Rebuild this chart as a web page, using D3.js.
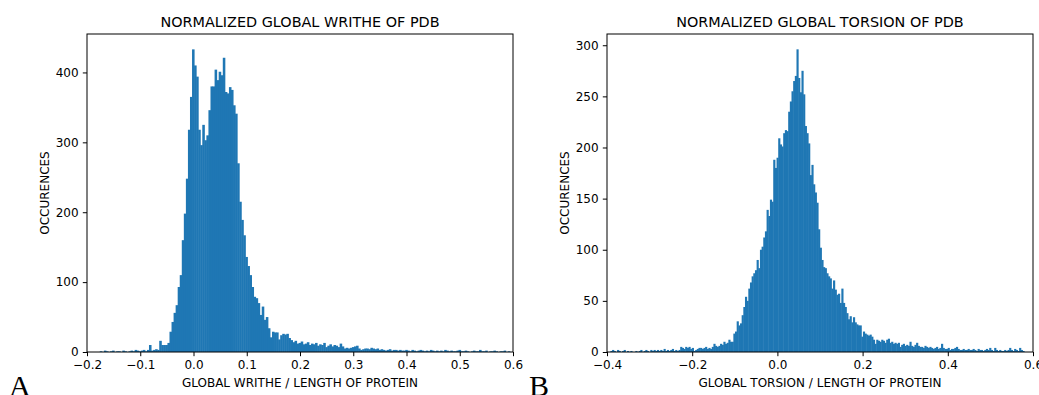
<!DOCTYPE html>
<html>
<head>
<meta charset="utf-8">
<script src="https://cdn.jsdelivr.net/npm/d3@7"></script>
<style>
  body { margin: 0; background: #fff; }
  svg text { font-family: "DejaVu Sans", sans-serif; fill: #000; }
</style>
</head>
<body>
<svg id="fig" width="1039" height="395"></svg>
<script>
// ---- data ----
const writheTitle = "NORMALIZED GLOBAL WRITHE OF PDB";
const writheXLabel = "GLOBAL WRITHE / LENGTH OF PROTEIN";
const writheBinStart = -0.176;
const writheBinWidth = 0.00385;
const writheCounts = [
  1,0,2,1,0,1,2,0,1,1,
  0,2,1,0,1,2,1,3,2,1,
  2,3,1,3,10,2,3,4,3,16,
  10,10,10,13,29,43,56,67,93,110,
  160,198,248,318,365,433,410,394,318,296,
  325,303,310,346,380,380,404,389,401,396,
  421,372,370,379,375,353,341,270,215,189,
  167,136,123,110,93,79,77,70,53,65,
  46,50,34,21,29,28,28,18,24,26,
  25,26,20,17,14,16,12,13,15,11,
  12,14,10,12,11,13,9,11,10,13,
  7,9,11,8,10,9,7,12,8,5,
  6,5,6,7,8,9,5,3,4,5,
  5,4,6,5,4,5,3,4,3,2,
  3,4,2,3,3,2,3,2,2,3,
  2,1,3,2,1,2,3,2,1,2,
  1,3,2,1,2,1,2,1,3,2,
  1,2,1,1,2,3,1,1,2,1,
  0,1,2,1,1,3,1,1,2,0,
  1,1,2,1,0,1,1,2,0,1
];
const writheXDomain = [-0.2, 0.6];
const writheYDomain = [0, 455];
const writheXTicks = [-0.2, -0.1, 0.0, 0.1, 0.2, 0.3, 0.4, 0.5, 0.6];
const writheYTicks = [0, 100, 200, 300, 400];

const torsionTitle = "NORMALIZED GLOBAL TORSION OF PDB";
const torsionXLabel = "GLOBAL TORSION / LENGTH OF PROTEIN";
const torsionBinStart = -0.392;
const torsionBinWidth = 0.0039;
const torsionCounts = [
  1,2,1,0,2,1,0,1,2,0,
  1,0,1,0,0,1,0,1,2,0,
  1,2,1,0,2,1,2,1,2,1,
  2,1,3,1,2,1,2,3,1,2,
  1,2,5,4,3,5,4,5,3,4,
  1,2,3,4,4,3,4,5,3,4,
  3,5,8,6,5,6,8,7,10,8,
  9,12,10,10,18,20,30,26,28,36,
  44,54,50,62,68,74,77,80,90,82,
  100,103,112,118,139,133,149,147,188,180,
  190,209,203,201,214,217,216,235,245,255,
  265,270,296,268,254,275,252,221,214,204,
  173,183,164,156,146,120,102,90,83,82,
  77,74,72,62,70,61,56,57,48,62,
  48,44,38,32,35,29,34,29,27,26,
  26,15,20,18,17,16,17,15,12,8,
  12,11,10,12,11,9,12,13,9,10,
  8,9,8,9,5,7,8,6,7,6,
  10,6,5,7,9,6,5,5,4,6,
  5,4,5,4,3,4,5,3,4,8,
  4,3,3,4,2,3,3,4,5,3,
  2,2,3,2,2,3,2,2,3,2,
  1,3,2,2,1,2,3,2,4,2,
  1,4,2,1,2,1,1,2,1,2,
  4,2,1,3,2,1,4,2,1,0
];
const torsionXDomain = [-0.4, 0.6];
const torsionYDomain = [0, 311];
const torsionXTicks = [-0.4, -0.2, 0.0, 0.2, 0.4, 0.6];
const torsionYTicks = [0, 50, 100, 150, 200, 250, 300];

const yLabel = "OCCURENCES";
const panelLetters = ["A", "B"];

// ---- drawing ----
const svg = d3.select("#fig");
const barColor = "#1f77b4";
const fmt = d3.format(".1f");

function drawPanel(p) {
  const x = d3.scaleLinear().domain(p.xDomain).range([p.left, p.right]);
  const y = d3.scaleLinear().domain(p.yDomain).range([p.bottom, p.top]);

  const bins = p.counts.map((c, i) => ({
    x0: p.binStart + i * p.binWidth,
    x1: p.binStart + (i + 1) * p.binWidth,
    count: c
  }));

  const g = svg.append("g");

  // bars, slightly overlapped so antialiasing doesn't leave white seams
  g.append("g")
    .selectAll("rect")
    .data(bins.filter(d => d.count > 0))
    .join("rect")
    .attr("x", d => x(d.x0))
    .attr("width", d => x(d.x1) - x(d.x0) + 0.5)
    .attr("y", d => y(d.count))
    .attr("height", d => y(0) - y(d.count))
    .attr("fill", barColor);

  // axes
  const xAxis = g.append("g")
    .attr("transform", `translate(0,${p.bottom})`)
    .call(d3.axisBottom(x).tickValues(p.xTicks).tickFormat(fmt).tickSize(4.2).tickPadding(4.2));
  const yAxis = g.append("g")
    .attr("transform", `translate(${p.left},0)`)
    .call(d3.axisLeft(y).tickValues(p.yTicks).tickFormat(d3.format("d")).tickSize(4.2).tickPadding(4.2));
  [xAxis, yAxis].forEach(a => {
    a.select(".domain").remove();
    a.attr("font-size", 12).attr("font-family", "DejaVu Sans");
    a.selectAll("line").attr("stroke", "#000");
  });

  // frame
  g.append("rect")
    .attr("x", p.left)
    .attr("y", p.top)
    .attr("width", p.right - p.left)
    .attr("height", p.bottom - p.top)
    .attr("fill", "none")
    .attr("stroke", "#000")
    .attr("stroke-width", 1);

  g.append("text")
    .attr("x", (p.left + p.right) / 2)
    .attr("y", 27)
    .attr("text-anchor", "middle")
    .style("font-size", "14.4px")
    .text(p.title);

  g.append("text")
    .attr("x", (p.left + p.right) / 2)
    .attr("y", 387)
    .attr("text-anchor", "middle")
    .style("font-size", "12px")
    .text(p.xLabel);

  g.append("text")
    .attr("transform", `translate(${p.left - 38},${(p.top + p.bottom) / 2}) rotate(-90)`)
    .attr("text-anchor", "middle")
    .style("font-size", "12px")
    .text(yLabel);

  g.append("text")
    .attr("x", p.letterX)
    .attr("y", 396)
    .style("font-family", "'Liberation Serif', serif")
    .style("font-size", "30px")
    .text(p.letter);
}

drawPanel({
  left: 87, right: 513, top: 34, bottom: 352,
  xDomain: writheXDomain, yDomain: writheYDomain,
  xTicks: writheXTicks, yTicks: writheYTicks,
  binStart: writheBinStart, binWidth: writheBinWidth, counts: writheCounts,
  title: writheTitle, xLabel: writheXLabel,
  letter: panelLetters[0], letterX: 9
});

drawPanel({
  left: 607, right: 1033, top: 34, bottom: 352,
  xDomain: torsionXDomain, yDomain: torsionYDomain,
  xTicks: torsionXTicks, yTicks: torsionYTicks,
  binStart: torsionBinStart, binWidth: torsionBinWidth, counts: torsionCounts,
  title: torsionTitle, xLabel: torsionXLabel,
  letter: panelLetters[1], letterX: 529
});
</script>
</body>
</html>
